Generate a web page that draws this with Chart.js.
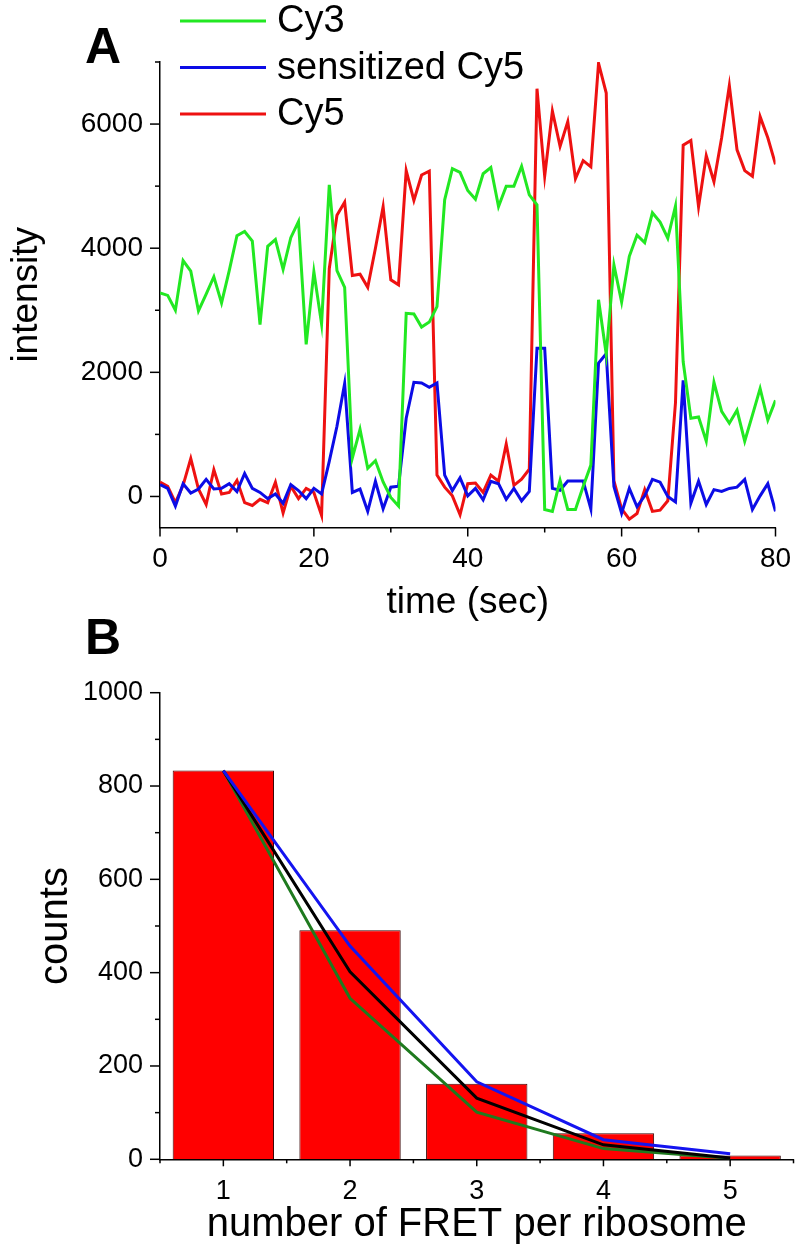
<!DOCTYPE html>
<html lang="en">
<head>
    <meta charset="UTF-8">
    <title>FRET traces and counts</title>
    <script src="https://cdn.jsdelivr.net/npm/chart.js"></script>
    <style>
        body {
            margin: 0;
            background-color: #ffffff;
        }

        #wrap {
            position: relative;
            width: 799px;
            height: 1257px;
            font-family: 'Liberation Sans', Arial, sans-serif;
        }

        canvas {
            position: absolute;
            left: 0;
        }

        #traces { top: 0; }
        #counts { top: 640px; }

        .panel-label {
            position: absolute;
            width: 60px;
            text-align: center;
            font-weight: bold;
            font-size: 50px;
            line-height: 50px;
            z-index: 2;
        }
    </style>
</head>
<body>
    <div id="wrap">
        <canvas id="traces" width="799" height="640"></canvas>
        <canvas id="counts" width="799" height="617"></canvas>
        <div class="panel-label" style="left: 73px; top: 21px;">A</div>
        <div class="panel-label" style="left: 73px; top: 612px;">B</div>
    </div>

    <script>
        // panel A: single molecule traces, one frame per second
        const timeSec = [
            0, 1, 2, 3, 4, 5, 6, 7, 8, 9,
            10, 11, 12, 13, 14, 15, 16, 17, 18, 19,
            20, 21, 22, 23, 24, 25, 26, 27, 28, 29,
            30, 31, 32, 33, 34, 35, 36, 37, 38, 39,
            40, 41, 42, 43, 44, 45, 46, 47, 48, 49,
            50, 51, 52, 53, 54, 55, 56, 57, 58, 59,
            60, 61, 62, 63, 64, 65, 66, 67, 68, 69,
            70, 71, 72, 73, 74, 75, 76, 77, 78, 79,
            80
        ];
        const cy3 = [
            3280, 3240, 3000, 3800, 3630, 2990, 3260, 3540, 3120, 3640,
            4200, 4270, 4115, 2770, 4030, 4140, 3660, 4170, 4430, 2450,
            3620, 2780, 5020, 3640, 3370, 620, 1080, 455, 577, 233,
            -17, -155, 2950, 2940, 2730, 2810, 3060, 4780, 5280, 5220,
            4930, 4790, 5200, 5300, 4670, 5000, 5000, 5320, 4860, 4700,
            -210, -240, 260, -210, -210, 160, 505, 3170, 2290, 3730,
            3130, 3870, 4210, 4090, 4570, 4420, 4160, 4680, 2170, 1260,
            1280, 890, 1840, 1370, 1180, 1390, 890, 1310, 1740, 1230,
            1550
        ];
        const sensitizedCy5 = [
            190, 130, -155, 205, 55, 120, 275, 120, 130, 205,
            80, 370, 130, 65, -35, 40, -110, 190, 95, -35,
            130, 40, 565, 1130, 1820, 65, 120, -240, 245, -200,
            150, 165, 1260, 1840, 1830, 1760, 1830, 345, 95, 300,
            10, 130, -55, 245, 205, -45, 130, -70, 80, 2390,
            2390, 130, 100, 250, 250, 250, -200, 2150, 2300, 160,
            -270, 130, -165, 10, 275, 230, 0, -90, 1870, -110,
            245, -130, 110, 80, 130, 150, 275, -210, 10, 205,
            -240
        ];
        const cy5 = [
            230, 165, -100, 180, 610, 120, -130, 430, 40, 65,
            260, -100, -145, -45, -100, 230, -265, 165, -35, 130,
            65, -305, 3670, 4530, 4740, 3560, 3580, 3370, 4000, 4670,
            3490, 3410, 5250, 4770, 5180, 5240, 345, 150, 10, -295,
            205, 215, 65, 345, 245, 845, 180, 280, 440, 6570,
            5160, 6210, 5640, 6040, 5120, 5410, 5310, 6980, 6500, 250,
            -200, -365, -275, 110, -240, -220, -70, 1510, 5660, 5735,
            4670, 5490, 5070, 5780, 6620, 5585, 5250, 5160, 6120, 5780,
            5350
        ];
        const traceNames = ['Cy3', 'sensitized Cy5', 'Cy5'];
        const timeTicks = [0, 20, 40, 60, 80];
        const timeMinorTicks = [10, 30, 50, 70];
        const intensityTicks = [0, 2000, 4000, 6000];
        const intensityMinorTicks = [1000, 3000, 5000, 7000];

        // panel B: histogram and fitted curves
        const fretNumber = [1, 2, 3, 4, 5];
        const fretCounts = [833, 491, 162, 56, 8];
        const fitBlue = [833, 457, 166, 42, 12];
        const fitBlack = [833, 402, 131, 31, 3];
        const fitGreen = [833, 345, 101, 23, 2];
        const countTicks = [0, 200, 400, 600, 800, 1000];
        const countMinorTicks = [100, 300, 500, 700, 900];
        const fretMinorTicks = [0.5, 1.5, 2.5, 3.5, 4.5, 5.5];

        const FONT = "'Liberation Sans', Arial, sans-serif";

        function pairs(xs, ys) {
            return xs.map((x, i) => ({ x: x, y: ys[i] }));
        }

        // Chart.js has no minor ticks, so all tick marks are drawn here
        const tickMarks = {
            id: 'tickMarks',
            afterDraw(chart, args, opts) {
                const ctx = chart.ctx;
                ctx.save();
                ctx.strokeStyle = '#000';
                ctx.lineWidth = 1.5;
                ['x', 'y'].forEach(id => {
                    const scale = chart.scales[id];
                    const spec = opts[id];
                    const draw = (values, len) => values.forEach(v => {
                        const p = scale.getPixelForValue(v);
                        ctx.beginPath();
                        if (id === 'x') {
                            ctx.moveTo(p, scale.top);
                            ctx.lineTo(p, scale.top + len);
                        } else {
                            ctx.moveTo(scale.right, p);
                            ctx.lineTo(scale.right - len, p);
                        }
                        ctx.stroke();
                    });
                    draw(spec.major, spec.majorLen);
                    draw(spec.minor, spec.minorLen);
                });
                ctx.restore();
            }
        };

        // legend sits above the plot, top left
        const traceLegend = {
            id: 'traceLegend',
            afterDraw(chart) {
                const ctx = chart.ctx;
                ctx.save();
                ctx.font = '38px ' + FONT;
                ctx.textBaseline = 'middle';
                chart.data.datasets.forEach((ds, i) => {
                    const y = 21 + i * 46.5;
                    ctx.strokeStyle = ds.borderColor;
                    ctx.lineWidth = 3;
                    ctx.beginPath();
                    ctx.moveTo(180, y);
                    ctx.lineTo(266, y);
                    ctx.stroke();
                    ctx.fillStyle = '#000';
                    ctx.fillText(ds.label, 277, y + 1);
                });
                ctx.restore();
            }
        };

        function axis(opts) {
            return {
                type: 'linear',
                min: opts.min,
                max: opts.max,
                offset: false,
                grid: { display: false },
                border: { display: true, color: '#000', width: 1.5 },
                afterBuildTicks: s => { s.ticks = opts.ticks.map(v => ({ value: v })); },
                afterFit: opts.fit,
                ticks: {
                    color: '#000',
                    padding: opts.tickPad,
                    autoSkip: false,
                    maxRotation: 0,
                    font: { family: FONT, size: opts.tickSize },
                    callback: v => String(v)
                },
                title: {
                    display: true,
                    text: opts.title,
                    color: '#000',
                    font: { family: FONT, size: opts.titleSize, lineHeight: 1.2 },
                    padding: opts.titlePad
                }
            };
        }

        renderTraces();
        renderCounts();

        function renderTraces() {
            const ctx = document.getElementById('traces').getContext('2d');
            const colors = ['#22e822', '#0c0ce6', '#ee1111'];
            const series = [cy3, sensitizedCy5, cy5];

            new Chart(ctx, {
                type: 'line',
                data: {
                    datasets: series.map((s, i) => ({
                        label: traceNames[i],
                        data: pairs(timeSec, s),
                        borderColor: colors[i],
                        borderWidth: 3,
                        pointRadius: 0,
                        tension: 0,
                        fill: false
                    }))
                },
                options: {
                    responsive: false,
                    animation: false,
                    devicePixelRatio: 1,
                    layout: { padding: { top: 62, right: 23.5, left: 0, bottom: 0 } },
                    plugins: {
                        legend: { display: false },
                        tooltip: { enabled: false },
                        tickMarks: {
                            x: { major: timeTicks, minor: timeMinorTicks, majorLen: 9, minorLen: 5 },
                            y: { major: intensityTicks, minor: intensityMinorTicks, majorLen: 10, minorLen: 5 }
                        }
                    },
                    scales: {
                        x: axis({
                            min: 0, max: 80, ticks: timeTicks,
                            fit: s => { s.height = 112.5; },
                            tickPad: 7, tickSize: 28,
                            title: 'time (sec)', titleSize: 37,
                            titlePad: { top: 0, bottom: 15 }
                        }),
                        y: axis({
                            min: -500, max: 7000, ticks: intensityTicks,
                            fit: s => { s.width = 160; },
                            tickPad: 9, tickSize: 28,
                            title: 'intensity', titleSize: 37,
                            titlePad: { top: 5, bottom: 0 }
                        })
                    }
                },
                plugins: [tickMarks, traceLegend]
            });
        }

        function renderCounts() {
            const ctx = document.getElementById('counts').getContext('2d');

            new Chart(ctx, {
                data: {
                    datasets: [
                        {
                            type: 'line',
                            label: 'fit blue',
                            data: pairs(fretNumber, fitBlue),
                            borderColor: '#1414f0',
                            borderWidth: 3,
                            pointRadius: 0,
                            order: 1
                        },
                        {
                            type: 'line',
                            label: 'fit black',
                            data: pairs(fretNumber, fitBlack),
                            borderColor: '#000000',
                            borderWidth: 3,
                            pointRadius: 0,
                            order: 2
                        },
                        {
                            type: 'line',
                            label: 'fit green',
                            data: pairs(fretNumber, fitGreen),
                            borderColor: '#1f7a1f',
                            borderWidth: 3,
                            pointRadius: 0,
                            order: 3
                        },
                        {
                            type: 'bar',
                            label: 'counts',
                            data: pairs(fretNumber, fretCounts),
                            backgroundColor: '#ff0000',
                            borderColor: '#3a0606',
                            borderWidth: 1,
                            barPercentage: 0.8,
                            categoryPercentage: 1.0,
                            grouped: false,
                            order: 10
                        }
                    ]
                },
                options: {
                    responsive: false,
                    animation: false,
                    devicePixelRatio: 1,
                    layout: { padding: { top: 52.7, right: 5.5, left: 0, bottom: 0 } },
                    plugins: {
                        legend: { display: false },
                        tooltip: { enabled: false },
                        tickMarks: {
                            x: { major: fretNumber, minor: fretMinorTicks, majorLen: 7, minorLen: 4 },
                            y: { major: countTicks, minor: countMinorTicks, majorLen: 10, minorLen: 5 }
                        }
                    },
                    scales: {
                        x: axis({
                            min: 0.5, max: 5.5, ticks: fretNumber,
                            fit: s => { s.height = 97.7; },
                            tickPad: 8, tickSize: 27,
                            title: 'number of FRET per ribosome', titleSize: 40,
                            titlePad: { top: 0, bottom: 8 }
                        }),
                        y: axis({
                            min: 0, max: 1000, ticks: countTicks,
                            fit: s => { s.width = 160; },
                            tickPad: 9, tickSize: 27,
                            title: 'counts', titleSize: 40,
                            titlePad: { top: 32, bottom: 0 }
                        })
                    }
                },
                plugins: [tickMarks]
            });
        }
    </script>
</body>
</html>
